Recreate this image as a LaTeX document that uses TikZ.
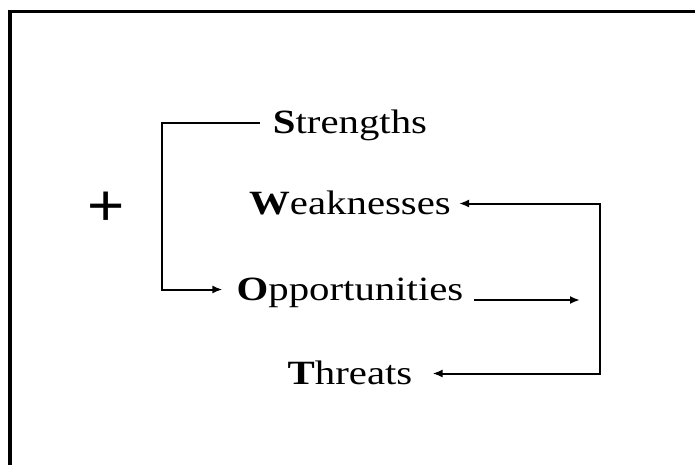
\documentclass[tikz,border=0pt]{standalone}
\usepackage{fontspec}
\setmainfont{Liberation Serif}
\newfontfamily\plusfont{Liberation Sans}
\usepackage{tikz}
\usetikzlibrary{arrows.meta}
\newcommand{\wide}[1]{\scalebox{1.2}[1]{#1}}

\begin{document}
\begin{tikzpicture}[x=1pt,y=-1pt,
  swot/.style={anchor=base, inner sep=0pt, text height=21pt, text depth=0pt, font=\fontsize{34}{40}\selectfont},
  frame/.style={line width=3.5pt},
  arr/.style={line width=2pt, -{Latex[length=10pt,width=8pt]}},
  arrs/.style={line width=2pt, {Latex[length=10pt,width=8pt]}-{Latex[length=10pt,width=8pt]}}]
  \useasboundingbox (0,0) rectangle (695,465);
  \draw[frame] (10,465) -- (10,11.5) -- (695,11.5);

  \node[font=\plusfont\fontsize{58}{60}\selectfont, inner sep=0pt] (plus) at (106,209) {\scalebox{1.1}[1]{+}};

  \node[swot] (str) at (350,134) {\wide{\textbf{S}trengths}};
  \node[swot] (weak) at (350,214) {\wide{\textbf{W}eaknesses}};
  \node[swot] (opp) at (350,300) {\wide{\textbf{O}pportunities}};
  \node[swot] (thr) at (350,384) {\wide{\textbf{T}hreats}};

  \coordinate (lx) at (162,0);
  \coordinate (rx) at (600,0);
  \coordinate (oend) at (580,0);

  \draw[arr] ([xshift=-13pt]str.west) -- (str.west -| lx) -- (opp.west -| lx) -- ([xshift=-14pt]opp.west);
  \draw[arr] ([xshift=10pt]opp.base east) -- (opp.base east -| oend);
  \draw[arrs] ([xshift=8pt]weak.east) -- (weak.east -| rx) -- (thr.east -| rx) -- ([xshift=20pt]thr.east);
\end{tikzpicture}
\end{document}
